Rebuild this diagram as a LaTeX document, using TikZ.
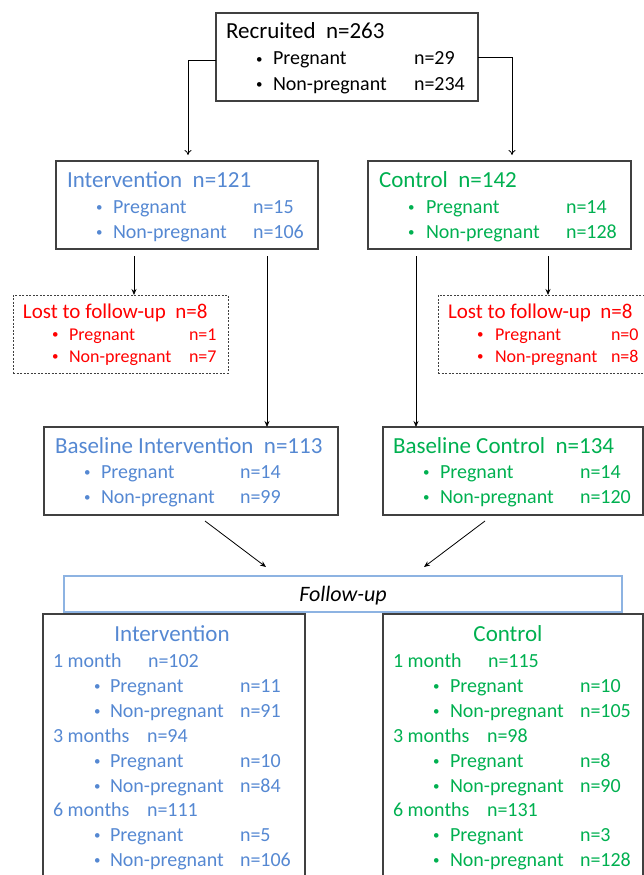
\documentclass[tikz,border=0pt]{standalone}
\usepackage{fontspec}
\setmainfont{Carlito}
\usetikzlibrary{arrows.meta}
\definecolor{iblue}{HTML}{5588D2}
\definecolor{cgreen}{HTML}{00B050}
\definecolor{lred}{HTML}{FF0000}
\definecolor{fuborder}{HTML}{8DB3E2}
\definecolor{boxline}{HTML}{404040}
\tikzset{
  box/.style={draw=boxline, line width=1.3pt, inner sep=0pt, outer sep=0pt},
  lostbox/.style={draw=boxline, line width=0.9pt, dash pattern=on 2pt off 1.5pt, inner sep=0pt, outer sep=0pt},
  fubox/.style={draw=fuborder, line width=1.3pt, inner sep=0pt, outer sep=0pt},
  txt/.style={anchor=base west, inner sep=0pt, outer sep=0pt},
  title/.style={txt, font=\fontsize{23}{27}\selectfont},
  item/.style={txt, font=\fontsize{20}{24}\selectfont},
  ltitle/.style={txt, font=\fontsize{21}{25}\selectfont},
  litem/.style={txt, font=\fontsize{18}{21}\selectfont},
  openarr/.style={-{To[length=5pt,width=7pt]}, line width=0.8pt},
  arr/.style={-{Stealth[length=6pt,width=5pt]}, line width=0.8pt},
}
\newcommand{\smallbul}{\raisebox{1.6pt}{\fontsize{13}{13}\selectfont •}}
% row: name, bullet x, text x, n x, baseline y, label, n, style
\newcommand{\brow}[8]{%
  \node[#8] (#1b) at (#2,#5) {\smallbul};
  \node[#8] (#1l) at (#3,#5) {#6};
  \node[#8] (#1n) at (#4,#5) {#7};
}
\begin{document}
\begin{tikzpicture}[x=1pt, y=-1pt]
\path[use as bounding box, clip] (0,0) rectangle (644,875);

% ---------- Recruited ----------
\node[box, minimum width=262pt, minimum height=88pt] (rec) at (347,57) {};
\node[title] (rect) at (226,39) {Recruited\ \ n=263};
\brow{recp}{256}{273}{414}{65}{Pregnant}{n=29}{item}
\brow{recn}{256}{273}{414}{90}{Non-pregnant}{n=234}{item}

% ---------- Intervention / Control ----------
\node[box, minimum width=262pt, minimum height=88pt] (intv) at (187,205) {};
\begin{scope}[iblue]
\node[title, iblue] (intvt) at (67,187) {Intervention\ \ n=121};
\brow{intp}{96}{113}{253}{213}{Pregnant}{n=15}{item}
\brow{intn}{96}{113}{253}{238}{Non-pregnant}{n=106}{item}
\end{scope}

\node[box, minimum width=263pt, minimum height=88pt] (ctrl) at (499.5,205) {};
\begin{scope}[cgreen]
\node[title, cgreen] (ctrlt) at (379,187) {Control\ \ n=142};
\brow{ctlp}{408}{426}{566}{213}{Pregnant}{n=14}{item}
\brow{ctln}{408}{426}{566}{238}{Non-pregnant}{n=128}{item}
\end{scope}

% ---------- Lost to follow-up ----------
\node[lostbox, minimum width=215pt, minimum height=78pt] (lostL) at (120.5,334) {};
\begin{scope}[lred]
\node[ltitle, lred] (lostLt) at (23,318) {Lost to follow-up\ \ n=8};
\brow{llp}{52}{69}{189}{340}{Pregnant}{n=1}{litem}
\brow{lln}{52}{69}{189}{362}{Non-pregnant}{n=7}{litem}
\end{scope}

\node[lostbox, minimum width=220pt, minimum height=78pt] (lostR) at (548,334) {};
\begin{scope}[lred]
\node[ltitle, lred] (lostRt) at (448,318) {Lost to follow-up\ \ n=8};
\brow{lrp}{477}{495}{611}{340}{Pregnant}{n=0}{litem}
\brow{lrn}{477}{495}{611}{362}{Non-pregnant}{n=8}{litem}
\end{scope}

% ---------- Baseline ----------
\node[box, minimum width=294pt, minimum height=88pt] (basI) at (191,471) {};
\begin{scope}[iblue]
\node[title, iblue] (basIt) at (55,453) {Baseline Intervention\ \ n=113};
\brow{bip}{84}{101}{240}{478}{Pregnant}{n=14}{item}
\brow{bin}{84}{101}{240}{503}{Non-pregnant}{n=99}{item}
\end{scope}

\node[box, minimum width=260pt, minimum height=88pt] (basC) at (513,471) {};
\begin{scope}[cgreen]
\node[title, cgreen] (basCt) at (393,453) {Baseline Control\ \ n=134};
\brow{bcp}{423}{440}{580}{478}{Pregnant}{n=14}{item}
\brow{bcn}{423}{440}{580}{503}{Non-pregnant}{n=120}{item}
\end{scope}

% ---------- Follow-up ----------
\node[fubox, minimum width=558pt, minimum height=36pt] (fu) at (343,594) {};
\node[anchor=base, inner sep=0pt, font=\fontsize{22}{26}\selectfont\itshape] (fut) at (343,601) {Follow-up};

% ---------- Bottom boxes ----------
\node[box, minimum width=262pt, minimum height=290pt] (fuI) at (174,759) {};
\begin{scope}[iblue]
\node[anchor=base, inner sep=0pt, font=\fontsize{23}{27}\selectfont, iblue] (fuIt) at (172,641) {Intervention};
\node[item, iblue] (fi1) at (53,667) {1 month};
\node[item, iblue] (fi1n) at (148,667) {n=102};
\brow{fi1p}{94}{110}{240}{692}{Pregnant}{n=11}{item}
\brow{fi1q}{94}{110}{240}{717}{Non-pregnant}{n=91}{item}
\node[item, iblue] (fi3) at (53,742) {3 months};
\node[item, iblue] (fi3n) at (147,742) {n=94};
\brow{fi3p}{94}{110}{240}{767}{Pregnant}{n=10}{item}
\brow{fi3q}{94}{110}{240}{792}{Non-pregnant}{n=84}{item}
\node[item, iblue] (fi6) at (53,816) {6 months};
\node[item, iblue] (fi6n) at (147,816) {n=111};
\brow{fi6p}{94}{110}{240}{841}{Pregnant}{n=5}{item}
\brow{fi6q}{94}{110}{240}{866}{Non-pregnant}{n=106}{item}
\end{scope}

\node[box, minimum width=260pt, minimum height=290pt] (fuC) at (513,759) {};
\begin{scope}[cgreen]
\node[anchor=base, inner sep=0pt, font=\fontsize{23}{27}\selectfont, cgreen] (fuCt) at (508,641) {Control};
\node[item, cgreen] (fc1) at (393,667) {1 month};
\node[item, cgreen] (fc1n) at (488,667) {n=115};
\brow{fc1p}{433}{450}{580}{692}{Pregnant}{n=10}{item}
\brow{fc1q}{433}{450}{580}{717}{Non-pregnant}{n=105}{item}
\node[item, cgreen] (fc3) at (393,742) {3 months};
\node[item, cgreen] (fc3n) at (487,742) {n=98};
\brow{fc3p}{433}{450}{580}{767}{Pregnant}{n=8}{item}
\brow{fc3q}{433}{450}{580}{792}{Non-pregnant}{n=90}{item}
\node[item, cgreen] (fc6) at (393,816) {6 months};
\node[item, cgreen] (fc6n) at (487,816) {n=131};
\brow{fc6p}{433}{450}{580}{841}{Pregnant}{n=3}{item}
\brow{fc6q}{433}{450}{580}{866}{Non-pregnant}{n=128}{item}
\end{scope}

% ---------- Connectors ----------
\coordinate (recL) at (rec.west |- 0,60);
\coordinate (recR) at (rec.east |- 0,57);
\coordinate (intvIn) at (188,155);
\coordinate (ctrlIn) at (512,155);
\draw[openarr] (recL) -| (intvIn);
\draw[openarr] (recR) -| (ctrlIn);

\coordinate (iA) at (134,256);
\coordinate (iB) at (267,256);
\coordinate (cA) at (416,256);
\coordinate (cB) at (548,256);
\draw[arr] (iA) -- (iA |- lostL.north);
\draw[arr] (iB) -- (iB |- basI.north);
\draw[arr] (cA) -- (cA |- basC.north);
\draw[arr] (cB) -- (cB |- lostR.north);

\coordinate (bI) at (205,521);
\coordinate (bC) at (485,521);
\coordinate (fuL) at (266,567);
\coordinate (fuR) at (424,567);
\draw[arr] (bI) -- (fuL);
\draw[arr] (bC) -- (fuR);
\end{tikzpicture}
\end{document}
